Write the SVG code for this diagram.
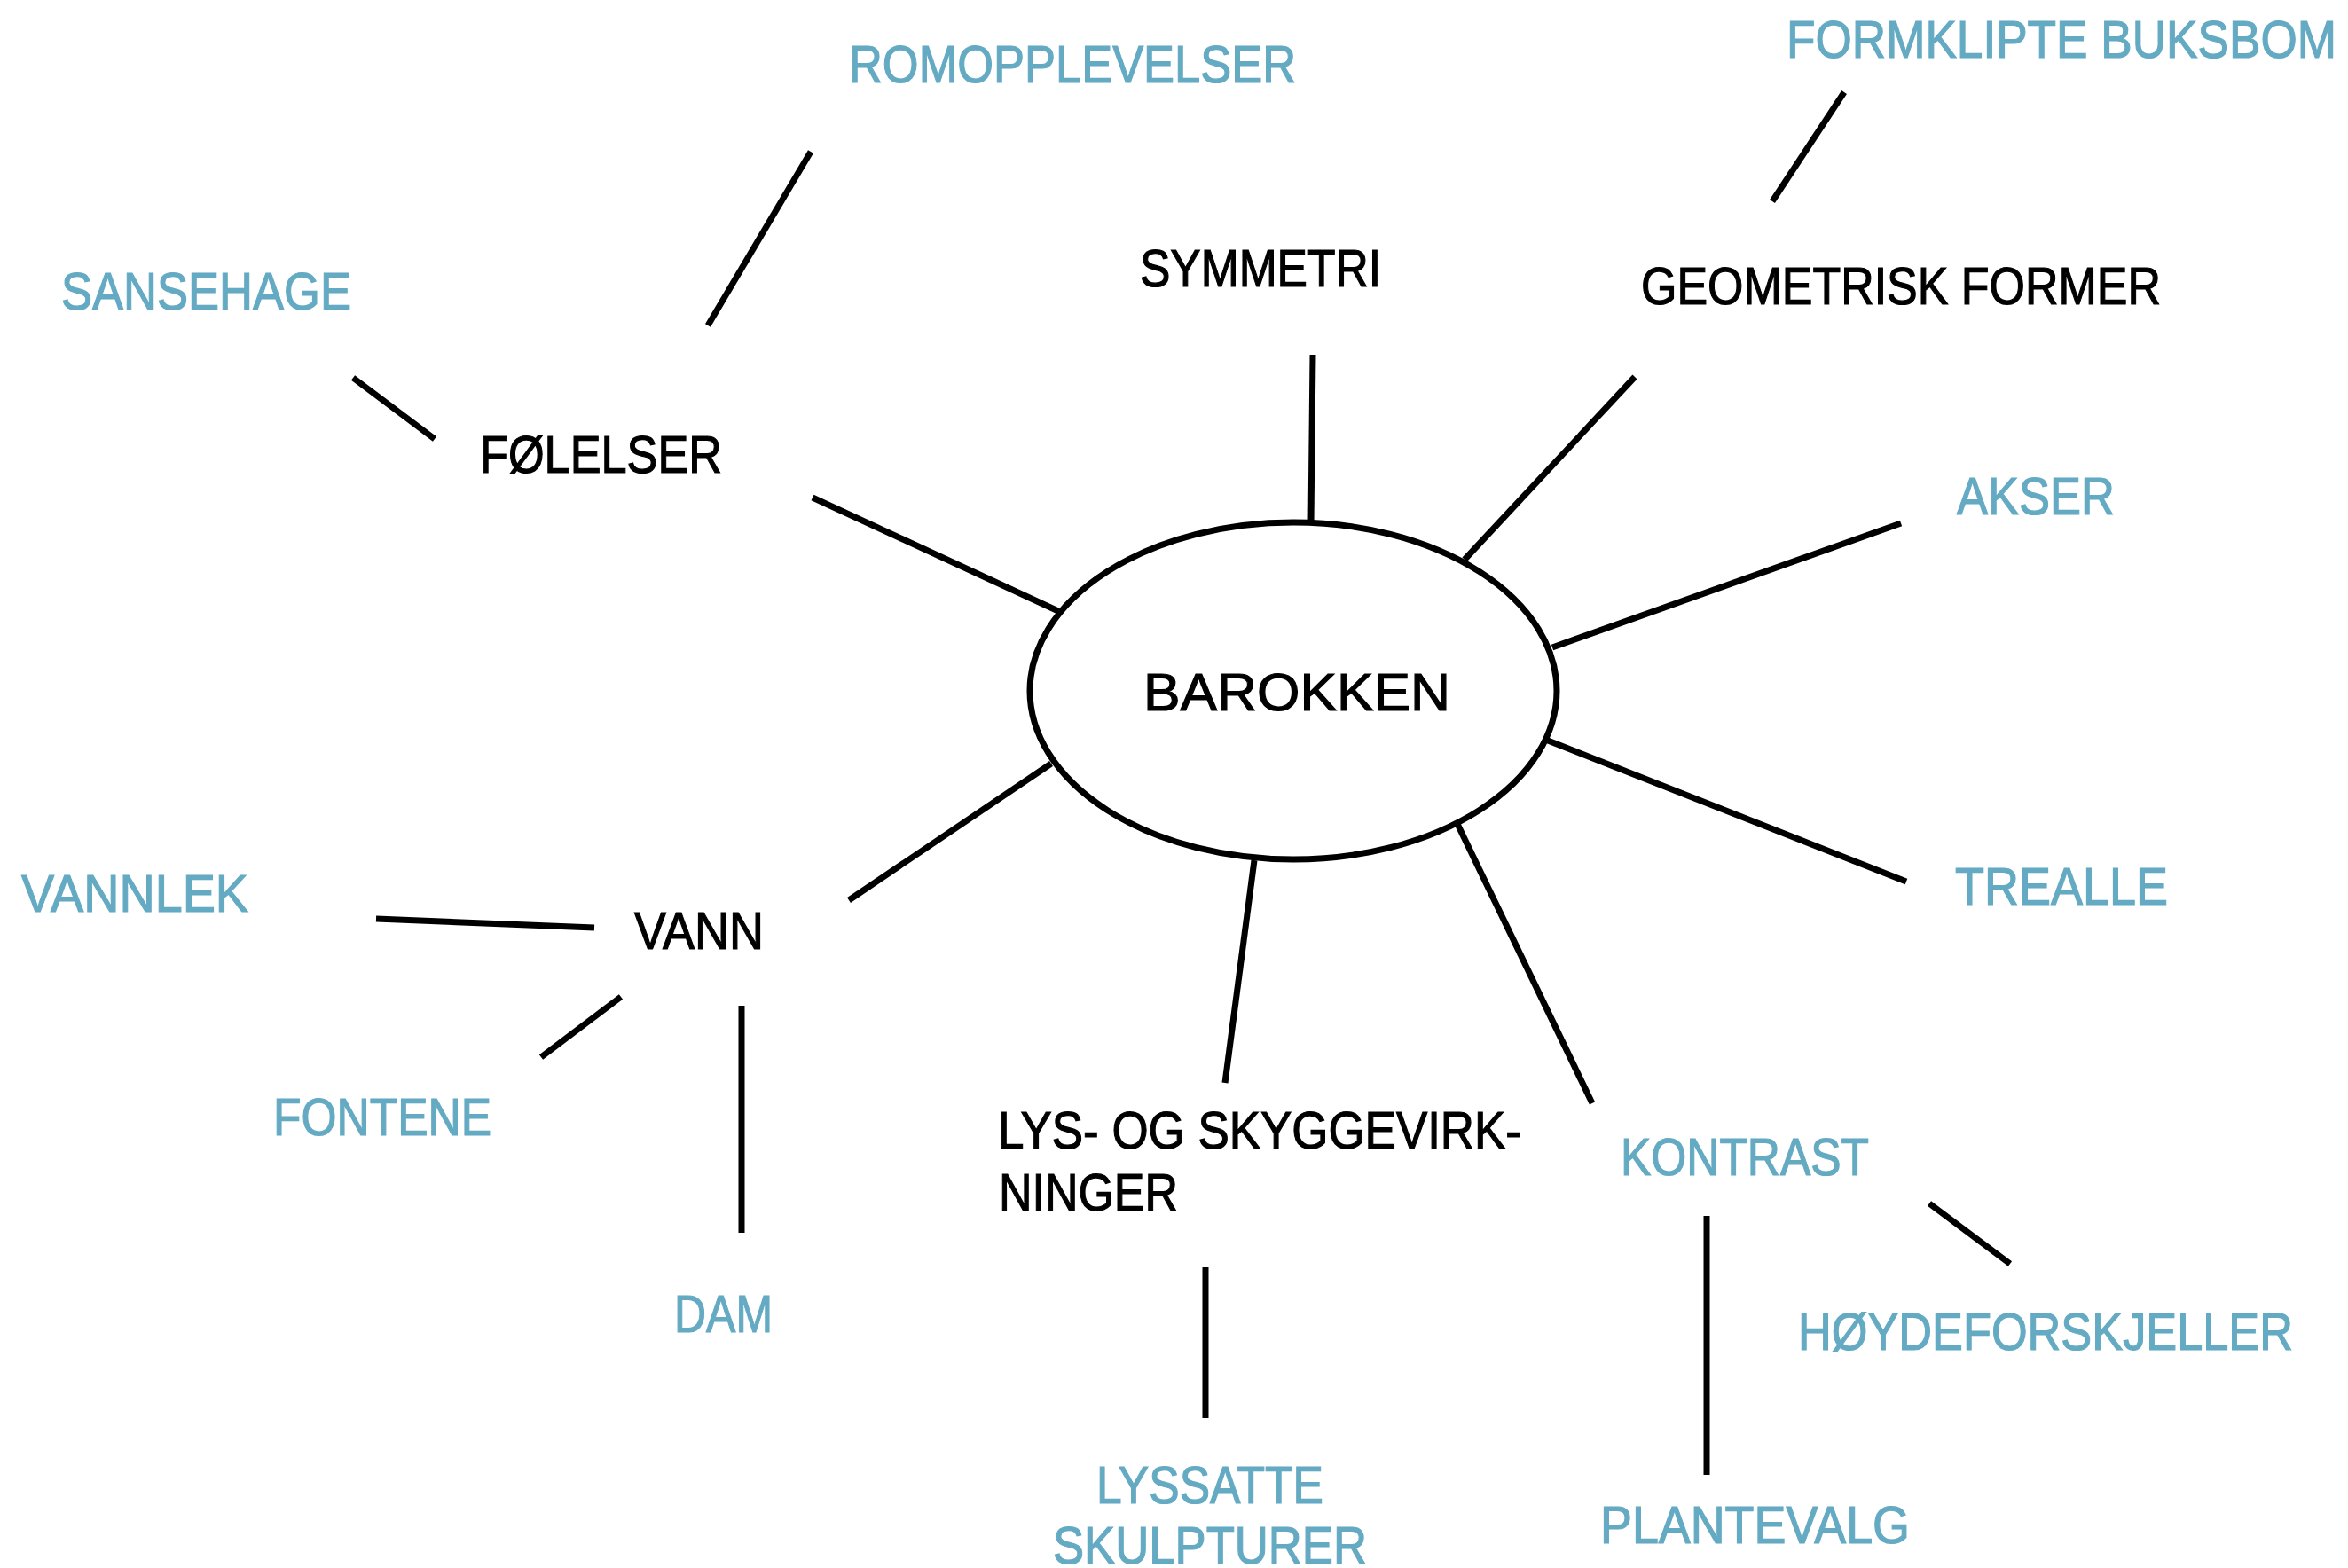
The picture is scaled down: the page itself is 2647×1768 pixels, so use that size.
<svg xmlns="http://www.w3.org/2000/svg" width="2647" height="1768" viewBox="0 0 2647 1768">
<style>
text{font-family:"Liberation Sans",Arial,sans-serif;font-size:60px;stroke-width:1.2px;}
.k{fill:#000;stroke:#000;}
.b{fill:#64AAC3;stroke:#64AAC3;}
.c line{stroke:#000;stroke-width:7;stroke-linecap:butt;}
</style>
<rect width="2647" height="1768" fill="#fff"/>
<g id="connectors" class="c">
<line x1="398" y1="426" x2="490" y2="495"/>
<line x1="798" y1="367" x2="914" y2="171"/>
<line x1="916" y1="561" x2="1193" y2="689"/>
<line x1="1480" y1="400" x2="1478" y2="589"/>
<line x1="1651" y1="631" x2="1843" y2="425"/>
<line x1="2079" y1="104" x2="1998" y2="227"/>
<line x1="1750" y1="730" x2="2143" y2="590"/>
<line x1="1745" y1="835" x2="2149" y2="994"/>
<line x1="1185" y1="861" x2="957" y2="1015"/>
<line x1="424" y1="1036" x2="670" y2="1046"/>
<line x1="700" y1="1124" x2="610" y2="1192"/>
<line x1="836" y1="1134" x2="836" y2="1390"/>
<line x1="1414" y1="970" x2="1381" y2="1221"/>
<line x1="1359" y1="1429" x2="1359" y2="1599"/>
<line x1="1643" y1="929" x2="1795" y2="1244"/>
<line x1="1924" y1="1371" x2="1924" y2="1663"/>
<line x1="2175" y1="1357" x2="2266" y2="1425"/>
</g>
<g id="barokken">
<ellipse cx="1458" cy="779" rx="297" ry="190" fill="#fff" stroke="#000" stroke-width="7"/>
<text class="k" x="1289" y="801" font-size="70" textLength="346" lengthAdjust="spacingAndGlyphs">BAROKKEN</text>
</g>
<g id="folelser"><text class="k" x="541" y="533" textLength="273" lengthAdjust="spacingAndGlyphs">FØLELSER</text></g>
<g id="sansehage"><text class="b" x="69" y="349" textLength="327" lengthAdjust="spacingAndGlyphs">SANSEHAGE</text></g>
<g id="romopplevelser"><text class="b" x="957" y="93" textLength="504" lengthAdjust="spacingAndGlyphs">ROMOPPLEVELSER</text></g>
<g id="symmetri"><text class="k" x="1285" y="323" textLength="272" lengthAdjust="spacingAndGlyphs">SYMMETRI</text></g>
<g id="geometrisk"><text class="k" x="1850" y="343" textLength="586" lengthAdjust="spacingAndGlyphs">GEOMETRISK FORMER</text></g>
<g id="formklipte"><text class="b" x="2014" y="65" textLength="620" lengthAdjust="spacingAndGlyphs">FORMKLIPTE BUKSBOM</text></g>
<g id="akser"><text class="b" x="2206" y="580" textLength="178" lengthAdjust="spacingAndGlyphs">AKSER</text></g>
<g id="trealle"><text class="b" x="2204" y="1020" textLength="240" lengthAdjust="spacingAndGlyphs">TREALLE</text></g>
<g id="vann"><text class="k" x="715" y="1070" textLength="146" lengthAdjust="spacingAndGlyphs">VANN</text></g>
<g id="vannlek"><text class="b" x="24" y="1028" textLength="256" lengthAdjust="spacingAndGlyphs">VANNLEK</text></g>
<g id="fontene"><text class="b" x="308" y="1280" textLength="246" lengthAdjust="spacingAndGlyphs">FONTENE</text></g>
<g id="dam"><text class="b" x="760" y="1502" textLength="111" lengthAdjust="spacingAndGlyphs">DAM</text></g>
<g id="lys">
<text class="k" x="1125" y="1295" textLength="590" lengthAdjust="spacingAndGlyphs">LYS- OG SKYGGEVIRK-</text>
<text class="k" x="1126" y="1365" textLength="202" lengthAdjust="spacingAndGlyphs">NINGER</text>
</g>
<g id="lyssatte">
<text class="b" x="1236" y="1695" textLength="256" lengthAdjust="spacingAndGlyphs">LYSSATTE</text>
<text class="b" x="1187" y="1763" textLength="354" lengthAdjust="spacingAndGlyphs">SKULPTURER</text>
</g>
<g id="kontrast"><text class="b" x="1827" y="1325" textLength="280" lengthAdjust="spacingAndGlyphs">KONTRAST</text></g>
<g id="hoydeforskjeller"><text class="b" x="2027" y="1522" textLength="558" lengthAdjust="spacingAndGlyphs">HØYDEFORSKJELLER</text></g>
<g id="plantevalg"><text class="b" x="1804" y="1740" textLength="349" lengthAdjust="spacingAndGlyphs">PLANTEVALG</text></g>
</svg>
